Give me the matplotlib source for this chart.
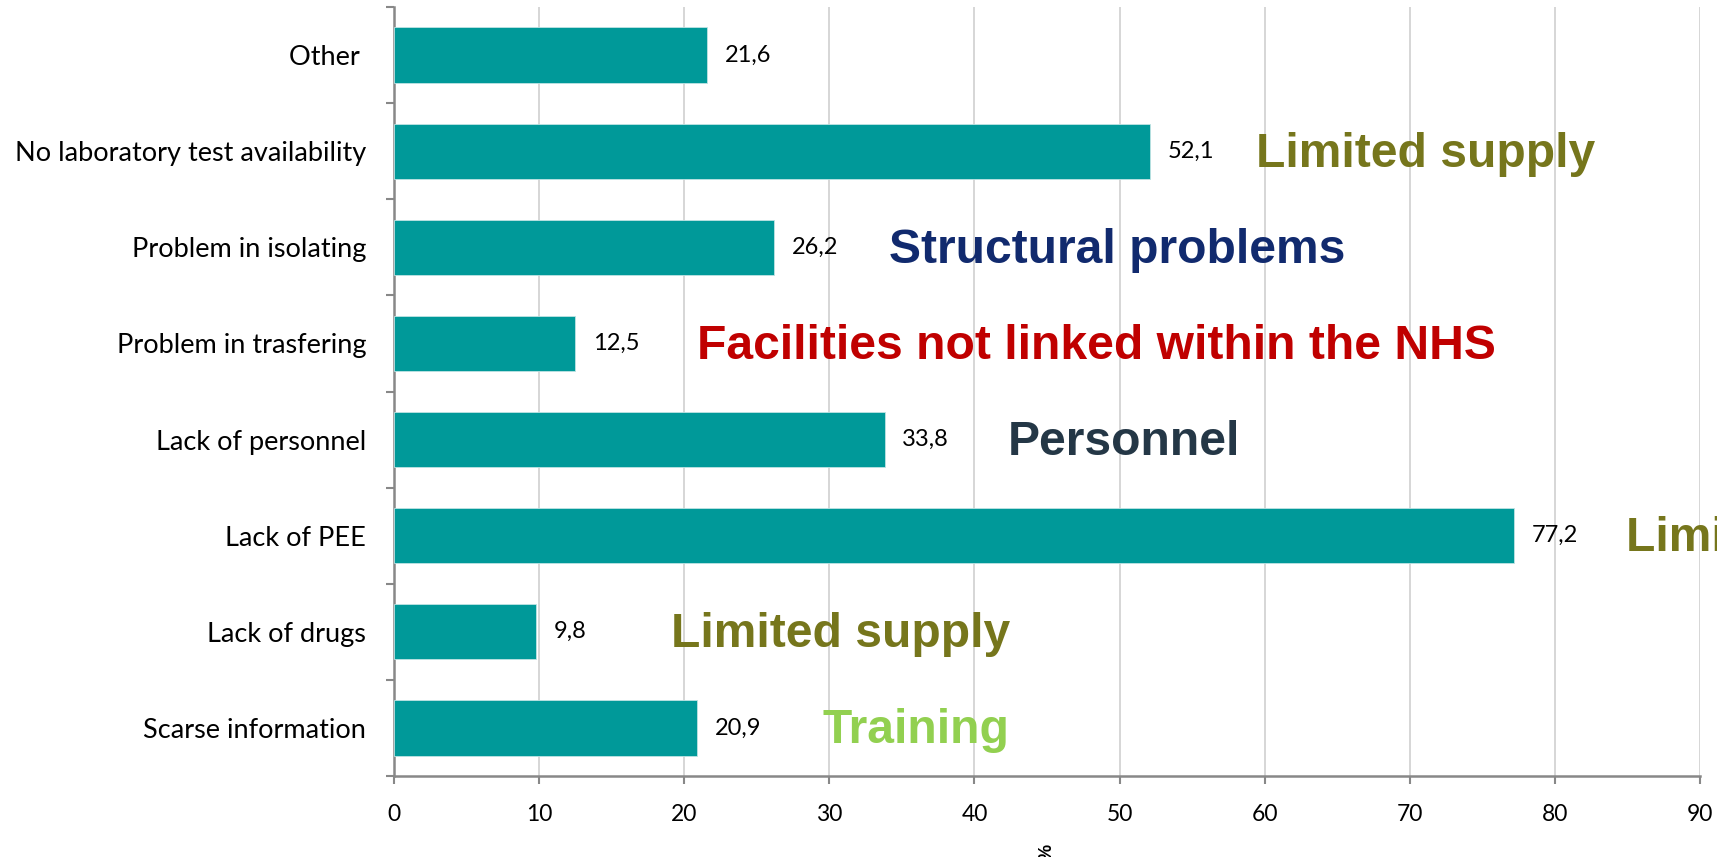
import matplotlib
matplotlib.use("Agg")
from matplotlib import pyplot as plt
from matplotlib.ticker import FixedLocator

categories = ["Other ", "No laboratory test availability", "Problem in isolating",
              "Problem in trasfering", "Lack of personnel", "Lack of PEE",
              "Lack of drugs", "Scarse information"]
values = [21.6, 52.1, 26.2, 12.5, 33.8, 77.2, 9.8, 20.9]
value_labels = ["21,6", "52,1", "26,2", "12,5", "33,8", "77,2", "9,8", "20,9"]

# group notes: (row, x start, text, colour)
notes = [
    (1, 59.4, "Limited supply", "#76761C"),
    (2, 34.1, "Structural problems", "#112A6E"),
    (3, 20.9, "Facilities not linked within the NHS", "#C00000"),
    (4, 42.3, "Personnel", "#243746"),
    (5, 84.9, "Limited supply", "#76761C"),
    (6, 19.1, "Limited supply", "#76761C"),
    (7, 29.5, "Training", "#92D050"),
]

tick_font = "Lato"
note_font = "Liberation Sans"

fig = plt.figure(figsize=(17.17, 8.57), dpi=100)
ax = fig.add_axes([0.2295, 0.0945, 0.7606, 0.8973])

y = list(range(len(categories)))
ax.barh(y, values, height=0.575, color="#009999", edgecolor="#bfe3e3", linewidth=0.6, zorder=3)

for yi, v, lab in zip(y, values, value_labels):
    ax.text(v + 1.2, yi, lab, va="center", ha="left", fontsize=17,
            family=tick_font, color="black", zorder=4)

for row, x0, txt, col in notes:
    ax.text(x0, row + 0.03, txt, va="center", ha="left", fontsize=34.6, fontweight="bold",
            family=note_font, color=col, clip_on=False, zorder=4)

ax.set_xlim(0, 90)
ax.set_ylim(len(categories) - 0.5, -0.5)
ax.set_xticks(range(0, 91, 10))
ax.set_yticks(y)
ax.set_yticklabels(categories, family=tick_font, fontsize=19.5)
ax.yaxis.set_minor_locator(FixedLocator([i - 0.5 for i in range(len(categories) + 1)]))
ax.tick_params(axis="y", which="major", length=0, pad=20)
ax.tick_params(axis="y", which="minor", length=6, width=1.5, color="#888888")
ax.tick_params(axis="x", length=6, width=1.5, color="#888888", pad=14)
for lab in ax.get_xticklabels():
    lab.set_family(tick_font)
    lab.set_fontsize(16.5)

ax.grid(axis="x", color="#d3d3d3", linewidth=1.3, zorder=0)
ax.set_axisbelow(True)
for side in ["top", "right"]:
    ax.spines[side].set_visible(False)
for side in ["left", "bottom"]:
    ax.spines[side].set_color("#888888")
    ax.spines[side].set_linewidth(1.8)

ax.set_xlabel("%", rotation=90, fontsize=13, fontweight="bold", family=note_font, labelpad=14)

fig.savefig("out.png", dpi=100)
